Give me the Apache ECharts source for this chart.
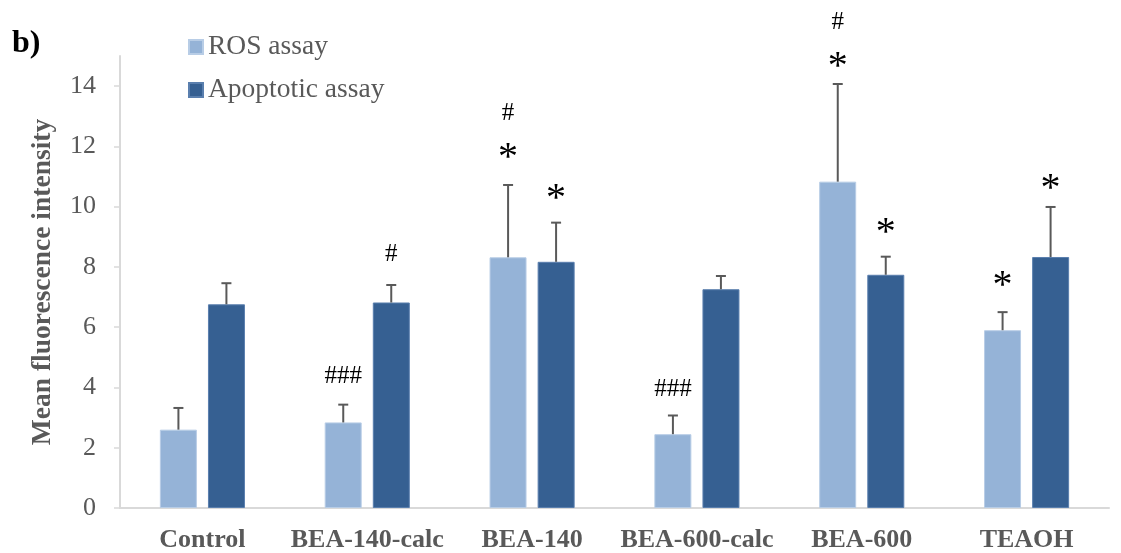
<!DOCTYPE html>
<html>
<head>
<meta charset="utf-8">
<script src="https://cdn.jsdelivr.net/npm/echarts@6/dist/echarts.min.js"></script>
<style>
html,body{margin:0;padding:0;background:#fff;}
#chart{width:1121px;height:553px;}
</style>
</head>
<body>
<div id="chart"></div>
<script>
const categories = ['Control', 'BEA-140-calc', 'BEA-140', 'BEA-600-calc', 'BEA-600', 'TEAOH'];
const rosValues = [2.60, 2.84, 8.32, 2.45, 10.83, 5.90];
const rosErrors = [0.72, 0.59, 2.40, 0.62, 3.24, 0.60];
const apoValues = [6.76, 6.82, 8.17, 7.26, 7.74, 8.33];
const apoErrors = [0.70, 0.58, 1.30, 0.44, 0.60, 1.66];
const yTicks = [0, 2, 4, 6, 8, 10, 12, 14];
// [category index, series (0 = ROS, 1 = Apoptotic), text, y value]
const annotations = [
  [1, 0, '###', 4.36],
  [1, 1, '#', 8.43],
  [2, 0, '*', 11.88],
  [2, 0, '#', 13.11],
  [2, 1, '*', 10.50],
  [3, 0, '###', 3.95],
  [4, 0, '*', 14.87],
  [4, 0, '#', 16.13],
  [4, 1, '*', 9.39],
  [5, 0, '*', 7.63],
  [5, 1, '*', 10.83]
];

const LIGHT = '#95B3D7';
const DARK = '#366092';
const GREY = '#595959';
const SERIF = '"Liberation Serif", "Times New Roman", serif';
const OFFSET = 24;

function errorRender(sign) {
  return function (params, api) {
    const i = api.value(0);
    const base = api.coord([i, api.value(1)]);
    const top = api.coord([i, api.value(2)]);
    const x = base[0] + sign * OFFSET;
    const style = { stroke: GREY, lineWidth: 2 };
    return {
      type: 'group',
      children: [
        { type: 'line', shape: { x1: x, y1: base[1], x2: x, y2: top[1] }, style: style },
        { type: 'line', shape: { x1: x - 5, y1: top[1], x2: x + 5, y2: top[1] }, style: style }
      ]
    };
  };
}

const chart = echarts.init(document.getElementById('chart'));
chart.setOption({
  animation: false,
  backgroundColor: '#fff',
  title: {
    text: 'b)', left: 7, top: 23, padding: 5,
    textStyle: { fontFamily: SERIF, fontSize: 32, fontWeight: 'bold', color: '#000' }
  },
  legend: {
    orient: 'vertical', left: 183, top: 28, itemGap: 15,
    itemWidth: 14, itemHeight: 14, icon: 'rect',
    data: ['ROS assay', 'Apoptotic assay'],
    textStyle: { fontFamily: SERIF, fontSize: 27.5, color: GREY, lineHeight: 26, padding: [0, 0, 0, 0] }
  },
  grid: { left: 120, right: 12, top: 56, bottom: 45 },
  xAxis: {
    type: 'category', data: categories,
    axisLine: { lineStyle: { color: '#d9d9d9', width: 2 } },
    axisTick: { show: false },
    axisLabel: { interval: 0, fontFamily: SERIF, fontSize: 26, fontWeight: 'bold', color: GREY, margin: 19 }
  },
  yAxis: {
    type: 'value', min: 0, max: 15, interval: 1,
    name: 'Mean fluorescence intensity', nameLocation: 'middle', nameGap: 63,
    nameTextStyle: { fontFamily: SERIF, fontSize: 27.5, fontWeight: 'bold', color: GREY },
    axisLine: { show: true, lineStyle: { color: '#d9d9d9', width: 2 } },
    axisTick: { show: true, inside: false, length: 6, customValues: yTicks, lineStyle: { color: '#d9d9d9', width: 1.5 } },
    axisLabel: { customValues: yTicks, fontFamily: SERIF, fontSize: 26, color: GREY, margin: 24 },
    splitLine: { show: false }
  },
  series: [
    {
      name: 'ROS assay', type: 'bar', data: rosValues, barWidth: 37, barGap: '30%',
      itemStyle: { color: LIGHT, borderColor: '#b8cde6', borderWidth: 1 }
    },
    {
      name: 'Apoptotic assay', type: 'bar', data: apoValues, barWidth: 37, barGap: '30%',
      itemStyle: { color: DARK, borderColor: '#5a7fae', borderWidth: 1 }
    },
    {
      type: 'custom', z: 5, silent: true, clip: false,
      data: rosValues.map((v, i) => [i, v, v + rosErrors[i]]),
      renderItem: errorRender(-1)
    },
    {
      type: 'custom', z: 5, silent: true, clip: false,
      data: apoValues.map((v, i) => [i, v, v + apoErrors[i]]),
      renderItem: errorRender(1)
    },
    {
      type: 'custom', z: 6, silent: true, clip: false,
      data: annotations.map(a => [a[0], a[3]]),
      renderItem: function (params, api) {
        const a = annotations[params.dataIndex];
        const p = api.coord([a[0], a[3]]);
        const x = p[0] + (a[1] === 0 ? -OFFSET : OFFSET);
        const star = a[2] === '*';
        return {
          type: 'text',
          x: x, y: p[1] + (star ? 8 : 0),
          style: {
            text: a[2], textAlign: 'center', textVerticalAlign: 'middle',
            fontFamily: SERIF, fontSize: star ? 40 : 25,
            fill: '#000'
          }
        };
      }
    }
  ]
});
</script>
</body>
</html>
